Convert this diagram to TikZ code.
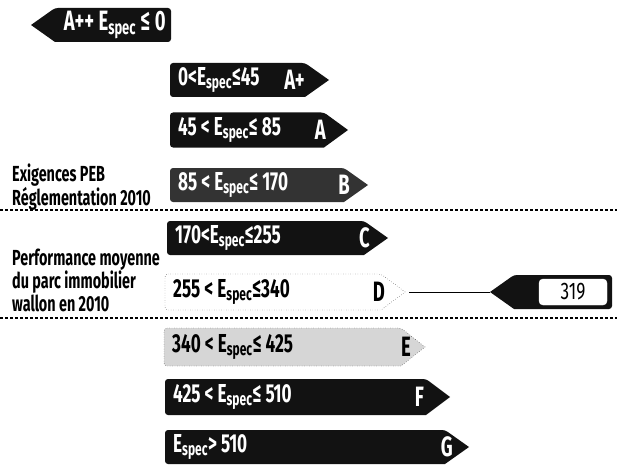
\documentclass[tikz,border=0pt]{standalone}
\usepackage{fontspec}
\setmainfont{Fira Sans}[FakeStretch=0.66]
\newfontfamily\notefont{Fira Sans}[FakeStretch=0.72]
\definecolor{barblack}{gray}{0.07}
\definecolor{bargrey}{gray}{0.2}
\definecolor{barlight}{gray}{0.84}
\newcommand{\Esp}{E\textsubscript{spec}}
% style, name, left x, tip x, centre y, half height
\newcommand{\barright}[6]{%
  \coordinate (#2-w) at (#3,#5);
  \coordinate (#2-e) at (#4,#5);
  \path[#1, rounded corners=3pt] (#3,#5-#6) -- (#4-24,#5-#6) [sharp corners] -- (#4,#5) -- (#4-24,#5+#6) [rounded corners=3pt] -- (#3,#5+#6) -- cycle;}
% style, name, tip x, right x, centre y, half height
\newcommand{\barleft}[6]{%
  \coordinate (#2-w) at (#3,#5);
  \coordinate (#2-e) at (#4,#5);
  \path[#1, rounded corners=3pt] (#4,#5-#6) -- (#3+24,#5-#6) [sharp corners] -- (#3,#5) -- (#3+24,#5+#6) [rounded corners=3pt] -- (#4,#5+#6) -- cycle;}

\begin{document}
\begin{tikzpicture}[x=1pt,y=-1pt,
    darkbar/.style={fill=barblack},
    rangetext/.style={anchor=west, inner sep=0pt, text=white, font=\fontsize{26}{26}\selectfont\bfseries},
    classtext/.style={anchor=east, inner sep=0pt, text=white, font=\fontsize{28}{28}\selectfont\bfseries},
    notetext/.style={anchor=west, align=left, inner sep=0pt, font=\fontsize{21.8}{18}\selectfont\bfseries},
    sepline/.style={line width=1.1pt, dash pattern=on 3pt off 2pt}]
    \useasboundingbox (0,0) rectangle (617,465);

    % A++ points the other way
    \barleft{darkbar}{bar-App}{31}{171}{25}{17}
    \node[classtext] (range-App) at ([xshift=-5pt]bar-App-e) {A++ \Esp\,≤\,0};

    % classes
    \barright{darkbar}{bar-Ap}{170}{329}{80}{17}
    \node[rangetext] (range-Ap) at ([xshift=8pt]bar-Ap-w) {0<\Esp≤45};
    \node[classtext] (class-Ap) at ([xshift=-24pt]bar-Ap-e) {A+};

    \barright{darkbar}{bar-A}{170}{348}{130}{17.5}
    \node[rangetext] (range-A) at ([xshift=8pt]bar-A-w) {45 < \Esp≤ 85};
    \node[classtext] (class-A) at ([xshift=-22pt]bar-A-e) {A};

    \barright{fill=bargrey}{bar-B}{170}{368}{185}{17}
    \node[rangetext] (range-B) at ([xshift=8pt]bar-B-w) {85 < \Esp≤ 170};
    \node[classtext] (class-B) at ([xshift=-18pt]bar-B-e) {B};

    \barright{darkbar}{bar-C}{167}{388}{238}{17}
    \node[rangetext] (range-C) at ([xshift=8pt]bar-C-w) {170<\Esp≤255};
    \node[classtext] (class-C) at ([xshift=-18pt]bar-C-e) {C};

    \barright{fill=white, draw, dotted}{bar-D}{165}{405}{292}{18}
    \node[rangetext, text=black] (range-D) at ([xshift=8pt]bar-D-w) {255 < \Esp≤340};
    \node[classtext, text=black] (class-D) at ([xshift=-20pt]bar-D-e) {D};

    \barright{fill=barlight, draw, dotted}{bar-E}{164}{425}{347}{19}
    \node[rangetext, text=black] (range-E) at ([xshift=8pt]bar-E-w) {340 < \Esp≤ 425};
    \node[classtext, text=black] (class-E) at ([xshift=-14pt]bar-E-e) {E};

    \barright{darkbar}{bar-F}{165}{450}{397}{18}
    \node[rangetext] (range-F) at ([xshift=8pt]bar-F-w) {425 < \Esp≤ 510};
    \node[classtext] (class-F) at ([xshift=-26pt]bar-F-e) {F};

    \barright{darkbar}{bar-G}{165}{469}{447}{17}
    \node[rangetext] (range-G) at ([xshift=8pt]bar-G-w) {\Esp > 510};
    \node[classtext] (class-G) at ([xshift=-16pt]bar-G-e) {G};

    % marker of the average
    \barleft{darkbar}{mark}{490}{612}{292}{17}
    \node[draw=white, fill=white, rounded corners=4pt, minimum width=68pt, minimum height=26pt, inner sep=0pt, font=\notefont\fontsize{24}{24}\selectfont] (mark-val) at ([xshift=-39pt]mark-e) {319};
    \draw[line width=0.8pt] ([xshift=4pt]bar-D-e) -- (mark-w);

    % separators and notes
    \coordinate (sep-1-l) at (0,210);
    \coordinate (sep-1-r) at (617,210);
    \coordinate (sep-2-l) at (0,318);
    \coordinate (sep-2-r) at (617,318);
    \draw[sepline] (sep-1-l) -- (sep-1-r);
    \draw[sepline] (sep-2-l) -- (sep-2-r);
    \node[notetext] (note-peb) at (12,187) {Exigences PEB\\Réglementation 2010};
    \node[notetext] (note-parc) at (12,280) {Performance moyenne\\du parc immobilier\\wallon en 2010};

\end{tikzpicture}
\end{document}
